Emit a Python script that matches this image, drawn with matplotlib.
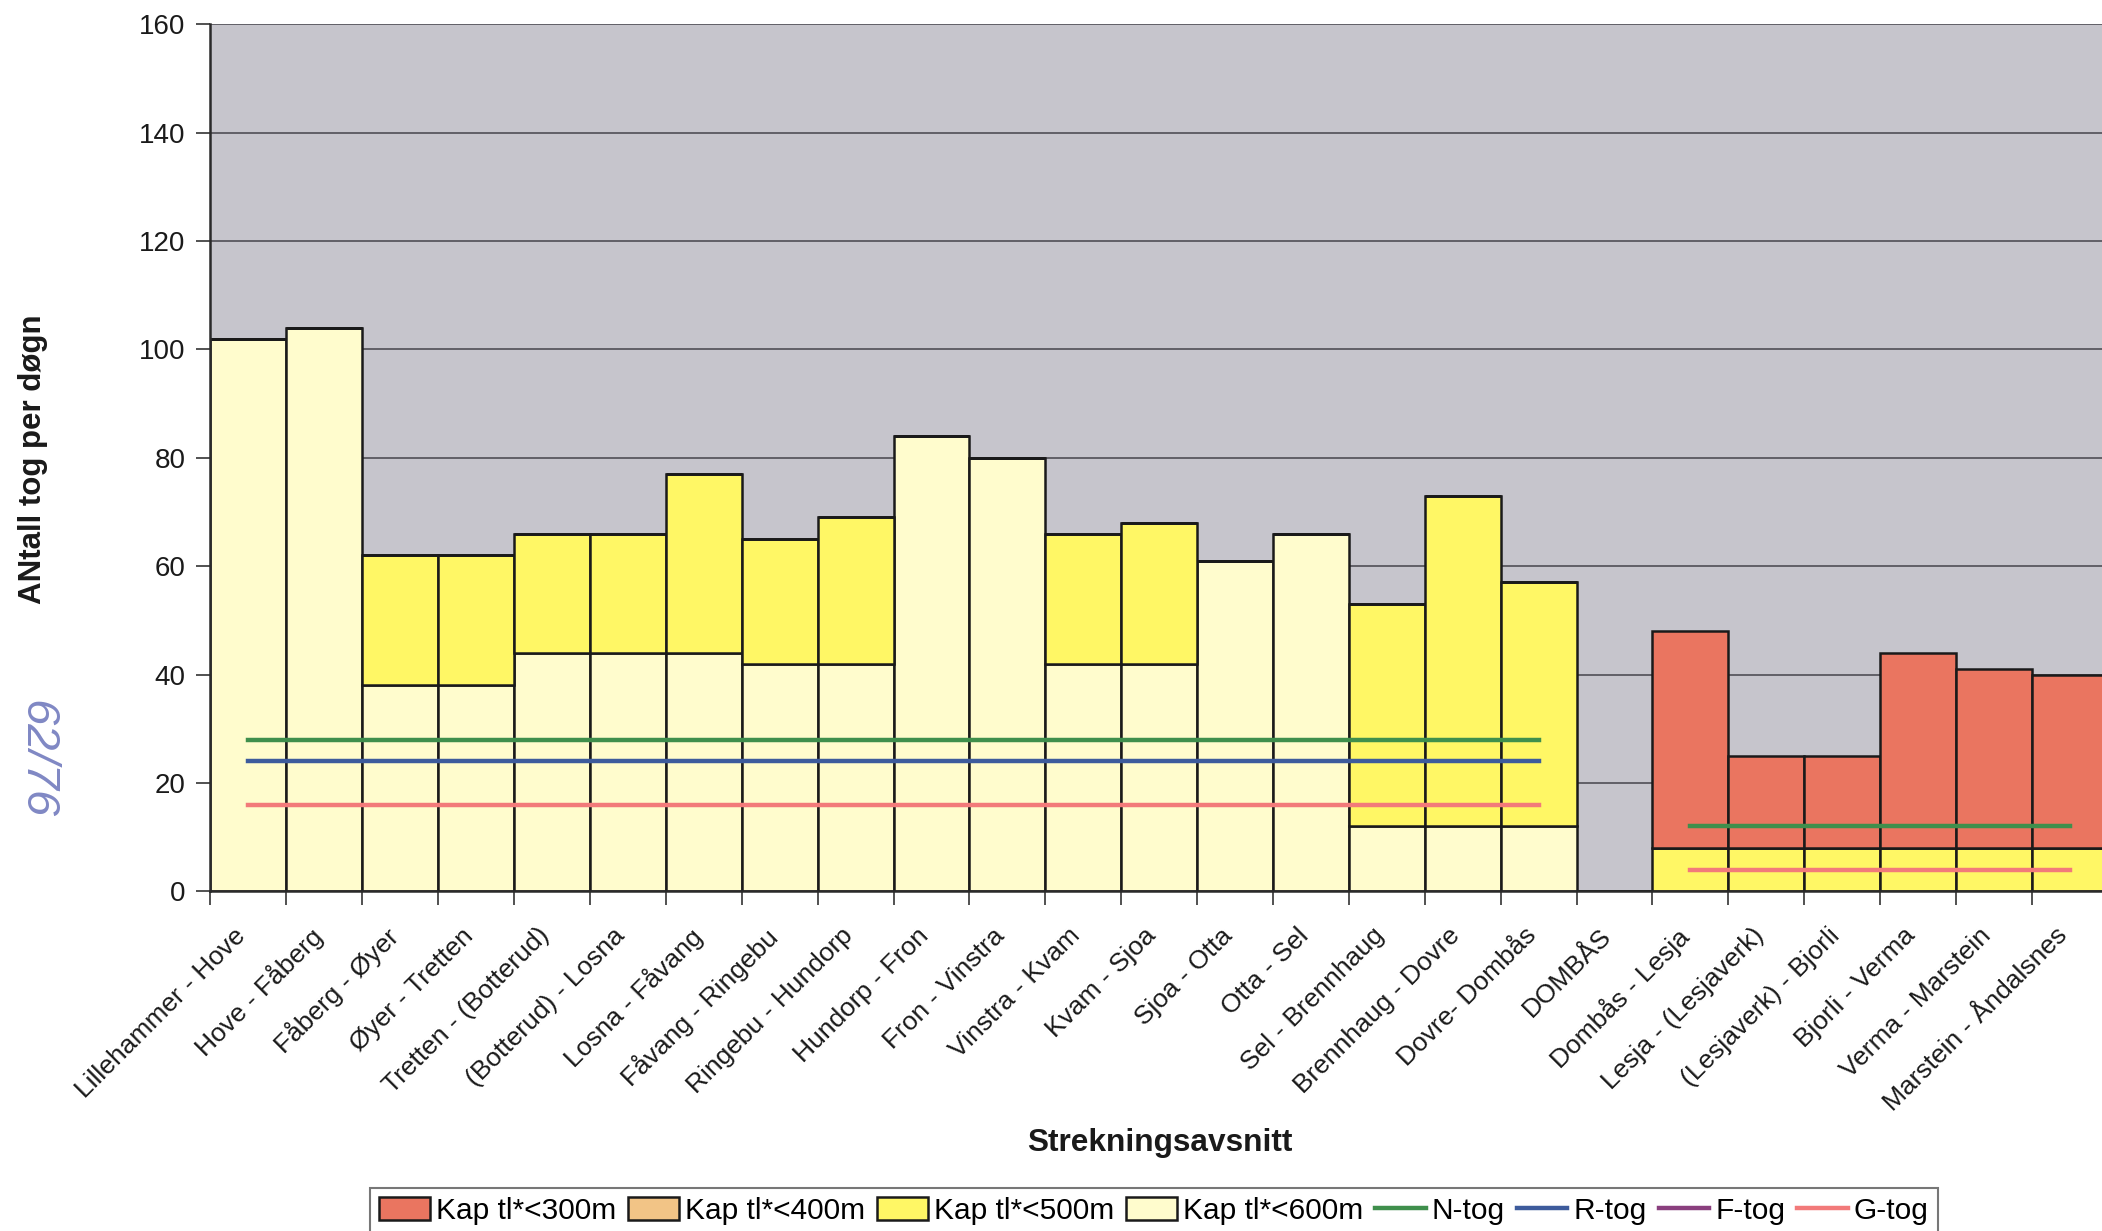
import matplotlib.pyplot as plt
import matplotlib.transforms as mtransforms
import numpy as np
from matplotlib.patches import Patch
from matplotlib.lines import Line2D

plt.rcParams['font.family'] = ['Liberation Sans', 'DejaVu Sans']

segments = ['Lillehammer - Hove', 'Hove - Fåberg', 'Fåberg - Øyer', 'Øyer - Tretten',
            'Tretten - (Botterud)', '(Botterud) - Losna', 'Losna - Fåvang', 'Fåvang - Ringebu',
            'Ringebu - Hundorp', 'Hundorp - Fron', 'Fron - Vinstra', 'Vinstra - Kvam',
            'Kvam - Sjoa', 'Sjoa - Otta', 'Otta - Sel', 'Sel - Brennhaug',
            'Brennhaug - Dovre', 'Dovre- Dombås', 'DOMBÅS', 'Dombås - Lesja',
            'Lesja - (Lesjaverk)', '(Lesjaverk) - Bjorli', 'Bjorli - Verma',
            'Verma - Marstein', 'Marstein - Åndalsnes']

# capacity by crossing-loop length (stacked from <600m at the bottom)
kap600 = [102, 104, 38, 38, 44, 44, 44, 42, 42, 84, 80, 42, 42, 61, 66, 12, 12, 12, 0, 0, 0, 0, 0, 0, 0]
kap500 = [0, 0, 24, 24, 22, 22, 33, 23, 27, 0, 0, 24, 26, 0, 0, 41, 61, 45, 0, 8, 8, 8, 8, 8, 8]
kap400 = [0, 0, 0, 0, 0, 0, 0, 0, 0, 0, 0, 0, 0, 0, 0, 0, 0, 0, 0, 0, 0, 0, 0, 0, 0]
kap300 = [0, 0, 0, 0, 0, 0, 0, 0, 0, 0, 0, 0, 0, 0, 0, 0, 0, 0, 0, 40, 17, 17, 36, 33, 32]

nan = np.nan
n_tog = [28, 28, 28, 28, 28, 28, 28, 28, 28, 28, 28, 28, 28, 28, 28, 28, 28, 28, nan, 12, 12, 12, 12, 12, 12]
r_tog = [24, 24, 24, 24, 24, 24, 24, 24, 24, 24, 24, 24, 24, 24, 24, 24, 24, 24, nan, nan, nan, nan, nan, nan, nan]
f_tog = [nan] * 25
g_tog = [16, 16, 16, 16, 16, 16, 16, 16, 16, 16, 16, 16, 16, 16, 16, 16, 16, 16, nan, 4, 4, 4, 4, 4, 4]

c300 = '#ea7560'
c400 = '#f2c486'
c500 = '#fff765'
c600 = '#fffccd'
cN = '#3f8f4c'
cR = '#3d5b9c'
cF = '#8a3f7e'
cG = '#f27a7a'

fig = plt.figure(figsize=(21.02, 12.31), dpi=100)
ax = fig.add_axes([0.1001, 0.2758, 0.9027, 0.7046])
ax.set_facecolor('#c6c5cc')

x = np.arange(len(segments))
edge = dict(width=1.0, edgecolor='#1a1a1a', linewidth=1.8)
b1 = np.array(kap600)
b2 = b1 + np.array(kap500)
b3 = b2 + np.array(kap400)
ax.bar(x, kap600, color=c600, **edge)
ax.bar(x, kap500, bottom=b1, color=c500, **edge)
ax.bar(x, kap400, bottom=b2, color=c400, **edge)
ax.bar(x, kap300, bottom=b3, color=c300, **edge)

lw = 3.2
ax.plot(x, n_tog, color=cN, lw=lw)
ax.plot(x, r_tog, color=cR, lw=lw)
ax.plot(x, f_tog, color=cF, lw=lw)
ax.plot(x, g_tog, color=cG, lw=lw)

ax.set_xlim(-0.5, 24.5)
ax.set_ylim(0, 160)
ax.set_yticks(range(0, 161, 20))
ax.yaxis.grid(True, color='#45454b', lw=1.1)
ax.set_axisbelow(True)

# category labels sit a bit left of the category centre, rotated 45 degrees
ax.set_xticks(x)
ax.set_xticklabels([])
ax.tick_params(axis='x', which='major', length=0)
lab_tr = ax.get_xaxis_transform() + mtransforms.ScaledTranslation(-0.15, -0.32, fig.dpi_scale_trans)
for xi, name in zip(x, segments):
    ax.text(xi, 0, name, transform=lab_tr, rotation=45, rotation_mode='anchor',
            ha='right', va='top', fontsize=19, color='#1a1a1a', clip_on=False)

ax.set_xticks(np.arange(-0.5, 25, 1), minor=True)
ax.tick_params(axis='x', which='minor', length=10, color='#333333', width=1.2)
ax.tick_params(axis='y', length=10, width=1.2, color='#333333', labelsize=20,
               labelcolor='#1a1a1a', pad=8)

for s in ['top', 'right']:
    ax.spines[s].set_visible(False)
for s in ['left', 'bottom']:
    ax.spines[s].set_linewidth(1.8)
    ax.spines[s].set_color('#2a2a2a')

fig.text(0.0157, 0.627, 'ANtall tog per døgn', rotation=90, fontweight='bold',
         fontsize=22.5, ha='center', va='center', color='#1a1a1a')
fig.text(0.552, 0.0712, 'Strekningsavsnitt', fontweight='bold', fontsize=22.8,
         ha='center', va='center', color='#1a1a1a')
fig.text(0.0175, 0.383, '62/76', rotation=-90, fontstyle='italic', fontsize=34,
         color='#8088c4', ha='center', va='center')

handles = [Patch(facecolor=c300, edgecolor='#1a1a1a', lw=1.8),
           Patch(facecolor=c400, edgecolor='#1a1a1a', lw=1.8),
           Patch(facecolor=c500, edgecolor='#1a1a1a', lw=1.8),
           Patch(facecolor=c600, edgecolor='#1a1a1a', lw=1.8),
           Line2D([], [], color=cN, lw=lw),
           Line2D([], [], color=cR, lw=lw),
           Line2D([], [], color=cF, lw=lw),
           Line2D([], [], color=cG, lw=lw)]
labels = ['Kap tl*<300m', 'Kap tl*<400m', 'Kap tl*<500m', 'Kap tl*<600m',
          'N-tog', 'R-tog', 'F-tog', 'G-tog']
leg = fig.legend(handles, labels, loc='upper center', bbox_to_anchor=(0.549, 0.035),
                 ncol=8, frameon=True, fancybox=False, edgecolor='#555555',
                 fontsize=21.5, handlelength=1.7, handleheight=0.8, columnspacing=0.4,
                 handletextpad=0.2, borderpad=0.3, borderaxespad=0)
leg.get_frame().set_linewidth(1.5)

fig.savefig('out.png', dpi=100)
